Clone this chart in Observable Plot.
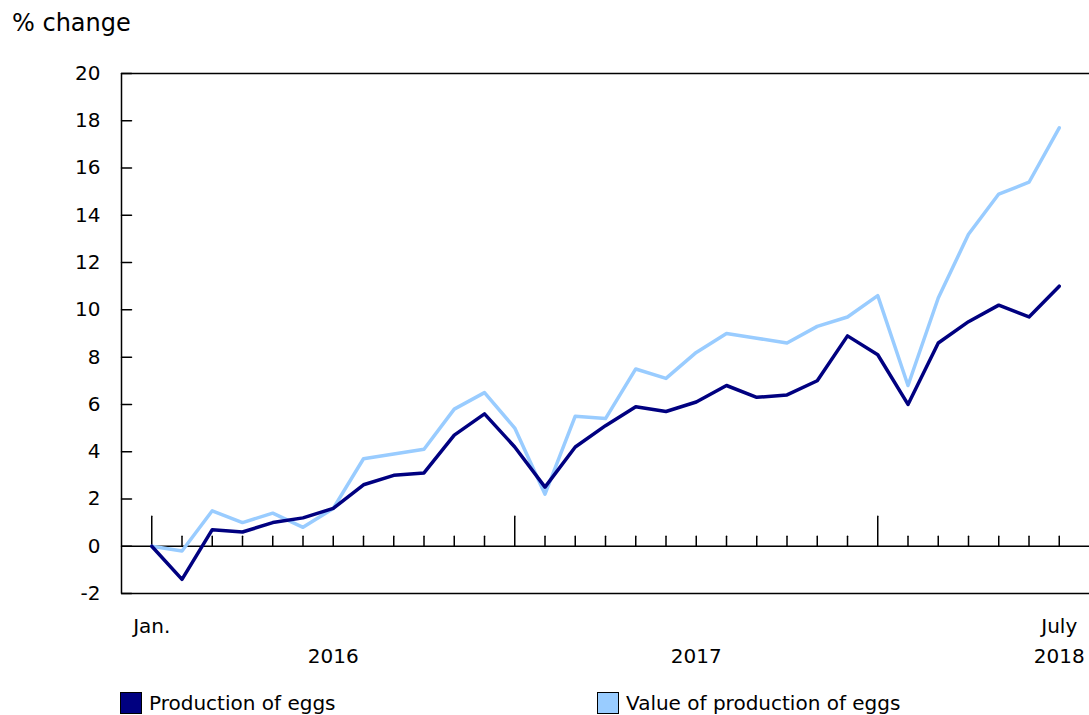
<!DOCTYPE html>
<html>
<head>
<meta charset="utf-8">
<script src="https://cdn.jsdelivr.net/npm/d3@7"></script>
<script src="https://cdn.jsdelivr.net/npm/@observablehq/plot@0.6"></script>
<style>
  body { margin: 0; background: #fff; font-family: "DejaVu Sans", Verdana, sans-serif; color: #000; }
  #wrap { position: relative; width: 1089px; height: 715px; overflow: hidden; }
  #title { position: absolute; left: 12px; top: 9px; font-size: 24px; }
  #chart { position: absolute; left: 0; top: 0; }
  .leg { position: absolute; top: 692px; font-size: 20px; display: flex; align-items: center; line-height: 22px; }
  .sw { width: 20px; height: 20px; border: 1px solid #000; margin-right: 7px; }
</style>
</head>
<body>
<div id="wrap">
  <div id="chart"></div>
  <div id="title">% change</div>
  <div class="leg" style="left:120px"><div class="sw" style="background:#000080"></div>Production of eggs</div>
  <div class="leg" style="left:597px"><div class="sw" style="background:#99ccff"></div>Value of production of eggs</div>
</div>
<script>
// Months Jan 2016 .. July 2018
const months = ["Jan.","Feb.","Mar.","Apr.","May","June","July","Aug.","Sept.","Oct.","Nov.","Dec.",
  "Jan.","Feb.","Mar.","Apr.","May","June","July","Aug.","Sept.","Oct.","Nov.","Dec.",
  "Jan.","Feb.","Mar.","Apr.","May","June","July"];
const production = [0, -1.4, 0.7, 0.6, 1.0, 1.2, 1.6, 2.6, 3.0, 3.1, 4.7, 5.6,
  4.2, 2.5, 4.2, 5.1, 5.9, 5.7, 6.1, 6.8, 6.3, 6.4, 7.0, 8.9,
  8.1, 6.0, 8.6, 9.5, 10.2, 9.7, 11.0];
const valueProd = [0, -0.2, 1.5, 1.0, 1.4, 0.8, 1.6, 3.7, 3.9, 4.1, 5.8, 6.5,
  5.0, 2.2, 5.5, 5.4, 7.5, 7.1, 8.2, 9.0, 8.8, 8.6, 9.3, 9.7,
  10.6, 6.8, 10.5, 13.2, 14.9, 15.4, 17.7];
const yTicks = [-2, 0, 2, 4, 6, 8, 10, 12, 14, 16, 18, 20];
const monthLabels = [{i: 0, label: "Jan."}, {i: 30, label: "July"}];
const yearLabels = [{i: 6, label: "2016"}, {i: 18, label: "2017"}, {i: 30, label: "2018"}];
const yearStarts = [0, 12, 24];

const idx = months.map((m, i) => i);
const minorIdx = idx.filter(i => !yearStarts.includes(i));
const dataProd = idx.map(i => ({i, v: production[i]}));
const dataVal = idx.map(i => ({i, v: valueProd[i]}));

const stick = {draw(context, l) { context.moveTo(0, 0); context.lineTo(0, -l); }};

const chart = Plot.plot({
  width: 1089,
  height: 680,
  marginLeft: 121,
  marginRight: 0,
  marginTop: 73,
  marginBottom: 87,
  style: {fontFamily: "DejaVu Sans, Verdana, sans-serif", fontSize: "20px", color: "#000", background: "transparent", overflow: "visible"},
  x: {domain: [-1, 31], axis: null},
  y: {domain: [-2, 20], axis: null},
  marks: [
    Plot.ruleY([20, -2], {stroke: "#000", strokeWidth: 1.5}),
    Plot.ruleX([-1], {stroke: "#000", strokeWidth: 1.5}),
    Plot.ruleY([0], {stroke: "#000", strokeWidth: 1.5}),
    Plot.vector(yTicks, {y: d => d, frameAnchor: "left", rotate: 90, length: 10, anchor: "start", shape: stick, stroke: "#000", strokeWidth: 1.5}),
    Plot.text(yTicks, {y: d => d, frameAnchor: "left", text: d => String(d), textAnchor: "end", dx: -21, fontSize: 20, fill: "#000"}),
    Plot.vector(minorIdx, {x: d => d, y: 0, rotate: 0, length: 10, anchor: "start", shape: stick, stroke: "#000", strokeWidth: 1.5}),
    Plot.vector(yearStarts, {x: d => d, y: 0, rotate: 0, length: 30, anchor: "start", shape: stick, stroke: "#000", strokeWidth: 1.5}),
    Plot.line(dataVal, {x: "i", y: "v", stroke: "#99ccff", strokeWidth: 3.5}),
    Plot.line(dataProd, {x: "i", y: "v", stroke: "#000080", strokeWidth: 3.5}),
    Plot.text(monthLabels, {x: "i", text: "label", frameAnchor: "bottom", dy: 39, fontSize: 20, fill: "#000"}),
    Plot.text(yearLabels, {x: "i", text: "label", frameAnchor: "bottom", dy: 69, fontSize: 20, fill: "#000"})
  ]
});
document.getElementById("chart").appendChild(chart);
</script>
</body>
</html>
